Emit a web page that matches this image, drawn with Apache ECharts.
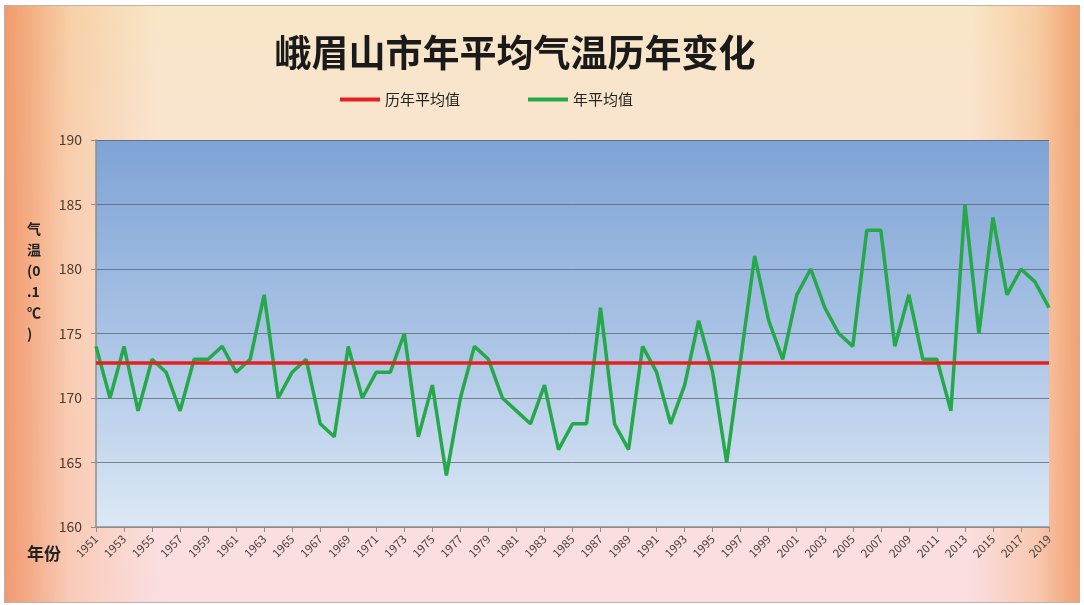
<!DOCTYPE html>
<html>
<head>
<meta charset="utf-8">
<script src="https://cdn.jsdelivr.net/npm/echarts@6/dist/echarts.min.js"></script>
<style>
    html, body { margin: 0; padding: 0; background: #ffffff; }
    #frame {
        position: absolute; left: 4px; top: 5px; width: 1074px; height: 596px;
        border: 1px solid #b9b2ad;
        background:
            linear-gradient(to right, rgba(240,140,90,0.85) 0%, rgba(245,175,120,0.4) 6%, rgba(250,220,200,0) 14%, rgba(250,220,200,0) 90%, rgba(245,175,120,0.45) 96%, rgba(240,150,95,0.85) 100%),
            linear-gradient(to bottom, #f8e6c6 0%, #fbe2d6 40%, #fbdde0 100%);
    }
    #chart { position: absolute; left: 0; top: 0; width: 1084px; height: 605px; }
</style>
</head>
<body>
<div id="frame"></div>
<div id="chart"></div>
<script>
// 年份 1951-2019
const years = [
    '1951','1952','1953','1954','1955','1956','1957','1958','1959','1960',
    '1961','1962','1963','1964','1965','1966','1967','1968','1969','1970',
    '1971','1972','1973','1974','1975','1976','1977','1978','1979','1980',
    '1981','1982','1983','1984','1985','1986','1987','1988','1989','1990',
    '1991','1992','1993','1994','1995','1996','1997','1998','1999','2000',
    '2001','2002','2003','2004','2005','2006','2007','2008','2009','2010',
    '2011','2012','2013','2014','2015','2016','2017','2018','2019'
];
// 年平均气温 (0.1℃)
const yearTemp = [
    174, 170, 174, 169, 173, 172, 169, 173, 173, 174,
    172, 173, 178, 170, 172, 173, 168, 167, 174, 170,
    172, 172, 175, 167, 171, 164, 170, 174, 173, 170,
    169, 168, 171, 166, 168, 168, 177, 168, 166, 174,
    172, 168, 171, 176, 172, 165, 173, 181, 176, 173,
    178, 180, 177, 175, 174, 183, 183, 174, 178, 173,
    173, 169, 185, 175, 184, 178, 180, 179, 177
];
// 历年平均值
const avgTemp = 172.7;
const yTicks = [160, 165, 170, 175, 180, 185, 190];

const chart = echarts.init(document.getElementById('chart'));
const option = {
    backgroundColor: 'transparent',
    textStyle: { fontFamily: '"Noto Sans CJK SC", "DejaVu Sans", sans-serif' },
    title: {
        text: '峨眉山市年平均气温历年变化',
        left: 510, top: 29, textAlign: 'center',
        textStyle: { fontSize: 37, fontWeight: 'bold', color: '#1a1a1a' }
    },
    legend: {
        left: 335, top: 87,
        itemWidth: 40, itemHeight: 4, itemGap: 68,
        icon: 'rect',
        textStyle: { fontSize: 15, color: '#222' },
        data: ['历年平均值', '年平均值']
    },
    grid: { left: 96, right: 35, top: 140, bottom: 78 },
    graphic: [
        {
            type: 'rect', silent: true, z: -1,
            shape: { x: 96, y: 140, width: 953, height: 387 },
            style: {
                fill: new echarts.graphic.LinearGradient(0, 0, 0, 1, [
                    { offset: 0, color: '#7ea3d5' },
                    { offset: 0.5, color: '#a9c3e5' },
                    { offset: 1, color: '#dce8f5' }
                ])
            }
        },
        {
            type: 'text', left: 27, top: 218,
            style: {
                text: '气\n温\n(0\n.1\n℃\n)',
                font: 'bold 14px "Noto Sans CJK SC", sans-serif',
                fill: '#222', lineHeight: 21
            }
        },
        {
            type: 'text', left: 27, top: 545,
            style: {
                text: '年份',
                font: 'bold 17px "Noto Sans CJK SC", sans-serif',
                fill: '#222'
            }
        }
    ],
    xAxis: {
        type: 'category',
        data: years,
        boundaryGap: false,
        axisLine: { lineStyle: { color: '#8e8e8e', width: 1.5 } },
        axisTick: { interval: 1, length: 5, lineStyle: { color: '#8e8e8e' } },
        axisLabel: { interval: 1, rotate: 45, fontSize: 11.5, color: '#4a4040', margin: 10 },
        splitLine: { show: false }
    },
    yAxis: {
        type: 'value',
        min: yTicks[0], max: yTicks[yTicks.length - 1], interval: 5,
        axisLine: { show: true, lineStyle: { color: '#8e8e8e', width: 1.5 } },
        axisTick: { show: true, length: 5, lineStyle: { color: '#8e8e8e' } },
        axisLabel: { fontSize: 14, color: '#4a3c34', margin: 14 },
        splitLine: { lineStyle: { color: '#5a6270', width: 1, opacity: 0.75 } }
    },
    series: [
        {
            name: '历年平均值',
            type: 'line',
            data: [],
            color: '#e3211f',
            lineStyle: { width: 3.5 },
            markLine: {
                silent: true, symbol: 'none',
                label: { show: false },
                lineStyle: { color: '#e3211f', width: 3.5, type: 'solid' },
                data: [{ yAxis: avgTemp }]
            }
        },
        {
            name: '年平均值',
            type: 'line',
            data: yearTemp,
            color: '#25a84a',
            symbol: 'none',
            lineStyle: { width: 3.5, color: '#25a84a' },
            z: 3
        }
    ]
};
chart.setOption(option);
</script>
</body>
</html>
